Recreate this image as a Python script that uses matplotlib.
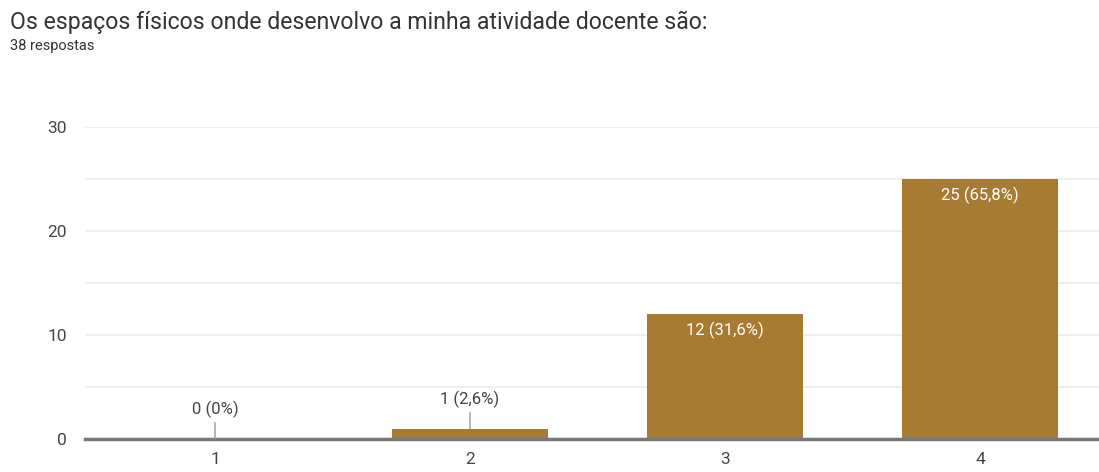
import matplotlib.pyplot as plt
import numpy as np

plt.rcParams['font.family'] = ['Roboto', 'DejaVu Sans']

# Data
categories = ["1", "2", "3", "4"]
counts = [0, 1, 12, 25]
labels = ["0 (0%)", "1 (2,6%)", "12 (31,6%)", "25 (65,8%)"]
title = "Os espaços físicos onde desenvolvo a minha atividade docente são:"
subtitle = "38 respostas"

bar_color = "#a87b33"
x = np.arange(len(categories))

fig = plt.figure(figsize=(10.99, 4.72), dpi=100)
ax = fig.add_axes([0.0773, 0.0699, 0.9227, 0.6611])

ax.bar(x, counts, width=0.615, color=bar_color, zorder=3)

ax.set_xlim(-0.51, 3.467)
ax.set_ylim(0, 30)
ax.set_yticks([0, 10, 20, 30])
ax.set_yticks([5, 15, 25], minor=True)
ax.grid(axis="y", which="both", color="#ececec", linewidth=1.2, zorder=0)
ax.set_xticks(x, categories)

for s in ["top", "right", "left"]:
    ax.spines[s].set_visible(False)
ax.spines["bottom"].set_color("#777777")
ax.spines["bottom"].set_linewidth(2.5)
ax.spines["bottom"].set_zorder(4)
ax.tick_params(axis="both", which="both", length=0, labelsize=12.5, labelcolor="#444444")
ax.tick_params(axis="x", pad=9)
ax.tick_params(axis="y", pad=13)

# Value labels
for i, v in enumerate(counts):
    if v >= 5:
        ax.annotate(labels[i], (x[i], v), xytext=(0, -11.5), textcoords="offset points",
                    ha="center", va="center", fontsize=12, color="white", zorder=5)
    else:
        ax.annotate(labels[i], (x[i], v), xytext=(0, 21), textcoords="offset points",
                    ha="center", va="center", fontsize=12, color="#444444", zorder=5,
                    arrowprops=dict(arrowstyle="-", color="#999999", lw=1,
                                    shrinkA=1, shrinkB=0))

fig.text(0.009, 0.952, title, fontsize=16.6, color="#333333", va="center", ha="left")
fig.text(0.009, 0.903, subtitle, fontsize=10.5, color="#333333", va="center", ha="left")

fig.savefig("out.png", dpi=100)
